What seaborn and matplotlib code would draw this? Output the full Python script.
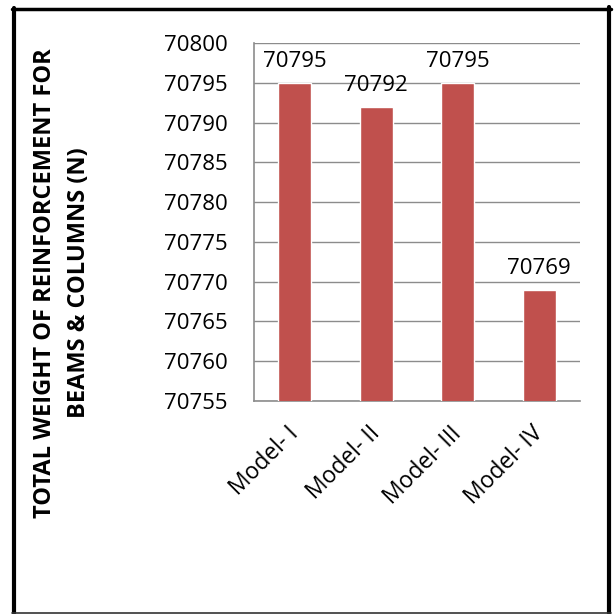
import matplotlib
matplotlib.use("Agg")
import matplotlib.pyplot as plt
from matplotlib.lines import Line2D
import pandas as pd
import seaborn as sns

models = ["Model- I", "Model- II", "Model- III", "Model- IV"]
weights = [70795, 70792, 70795, 70769]
y_ticks = [70755, 70760, 70765, 70770, 70775, 70780, 70785, 70790, 70795, 70800]
y_label = "TOTAL WEIGHT OF REINFORCEMENT FOR\nBEAMS & COLUMNS (N)"

sns.set_style("white")
plt.rcParams["font.family"] = ["Open Sans", "DejaVu Sans"]
plt.rcParams["text.color"] = "black"
plt.rcParams["xtick.labelcolor"] = "black"
plt.rcParams["ytick.labelcolor"] = "black"

df = pd.DataFrame({"model": models, "weight": weights})

fig = plt.figure(figsize=(6.15, 6.14), dpi=100)
ax = fig.add_axes([254 / 615, 1 - 401 / 614, 326 / 615, 358 / 614])
sns.barplot(data=df, x="model", y="weight", color="#C0504D", width=0.4,
            saturation=1, ax=ax, zorder=3)

ax.set_ylim(70755, 70800)
ax.set_yticks(y_ticks)
ax.set_xlim(-0.5, len(models) - 0.5)
ax.grid(axis="y", color="#8c8c8c", linewidth=1, zorder=0)
ax.set_axisbelow(True)
for side in ["top", "right"]:
    ax.spines[side].set_visible(False)
for side in ["left", "bottom"]:
    ax.spines[side].set_color("#8c8c8c")
    ax.spines[side].set_linewidth(1.2)

ax.tick_params(axis="y", length=6, color="#8c8c8c", width=1, labelsize=16, pad=13)
ax.tick_params(axis="x", which="major", length=0, labelsize=16.5, pad=21)
ax.set_xticks([i - 0.5 for i in range(len(models) + 1)], minor=True)
ax.tick_params(axis="x", which="minor", length=6, color="#8c8c8c", width=1.2)
plt.setp(ax.get_xticklabels(), rotation=45, ha="right", va="center",
         rotation_mode="anchor")

for i, w in enumerate(weights):
    ax.annotate(str(w), (i, w), xytext=(0, 8), textcoords="offset points",
                ha="center", va="bottom", fontsize=16, zorder=4)

ax.set_xlabel("")
ax.set_ylabel("")
fig.text(62 / 615, 1 - 283 / 614, y_label, rotation=90, ha="center", va="center",
         fontsize=17, fontweight="bold", linespacing=1.6)

# outer frame
fig.add_artist(Line2D([14 / 615, 14 / 615], [1.5 / 614, 606 / 614], color="black", linewidth=3))
fig.add_artist(Line2D([12 / 615, 611 / 615], [605.5 / 614, 605.5 / 614], color="black", linewidth=2.5))
fig.add_artist(Line2D([609 / 615, 609 / 615], [1.5 / 614, 607 / 614], color="black", linewidth=3))
fig.add_artist(Line2D([12 / 615, 611 / 615], [1.5 / 614, 1.5 / 614], color="#333333", linewidth=1.2))

fig.savefig("out.png", dpi=100)
